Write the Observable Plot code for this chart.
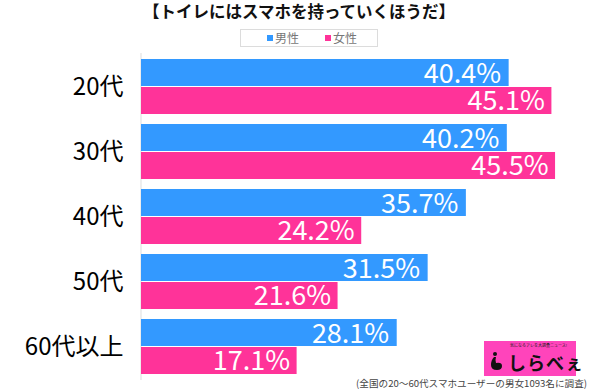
<!DOCTYPE html>
<html>
<head>
<meta charset="utf-8">
<script src="https://cdn.jsdelivr.net/npm/d3@7"></script>
<script src="https://cdn.jsdelivr.net/npm/@observablehq/plot@0.6"></script>
<style>
  html, body { margin: 0; padding: 0; background: #fff; }
  #wrap { position: relative; width: 600px; height: 390px; overflow: hidden; font-family: "Noto Sans CJK JP", "Noto Sans", sans-serif; }
  #title { position: absolute; left: 0; top: 2px; width: 598px; text-align: center; font-size: 16.5px; font-weight: 700; line-height: 19px; color: #111; }
  #legend { position: absolute; left: 240px; top: 29px; width: 136px; height: 16px; border: 1px solid #dcdcdc; box-sizing: content-box; }
  #legend .item { display: flex; align-items: center; font-size: 12px; color: #777; line-height: 16px; position: absolute; top: 0; }
  #legend .sw { width: 6px; height: 6px; margin-right: 2px; }
  #chart { position: absolute; left: 0; top: 50px; }
  #caption { position: absolute; right: 13px; top: 378px; font-size: 9.6px; line-height: 11px; color: #444; white-space: nowrap; }
  #logo { position: absolute; left: 484px; top: 341px; width: 92px; height: 35px; background: #ff44bb; }
  #logo .tag { position: absolute; left: 26px; top: 2px; font-size: 4px; line-height: 5px; color: #222; white-space: nowrap; }
  #logo .icon { position: absolute; left: 6px; top: 10px; width: 13px; height: 20px; }
  #logo .name { position: absolute; left: 24px; top: 10px; font-size: 18px; line-height: 22px; font-weight: 700; color: #111; letter-spacing: 1px; white-space: nowrap; }
</style>
</head>
<body>
<div id="wrap">
  <div id="title"></div>
  <div id="legend"></div>
  <div id="chart"></div>
  <div id="caption"></div>
  <div id="logo">
    <div class="tag">気になるアレを大調査ニュース!</div>
    <svg class="icon" viewBox="0 0 13 20"><circle cx="5" cy="3" r="2" fill="#111"/><path d="M4 6 Q1 9 1 14 Q1 19 7 19 Q12 19 12 15 Q12 11 6 12 Q5 9 6 6 Z" fill="#111"/></svg>
    <div class="name">しらべぇ</div>
  </div>
</div>
<script>
const titleText = "【トイレにはスマホを持っていくほうだ】";
const captionText = "(全国の20〜60代スマホユーザーの男女1093名に調査)";
const ages = ["20代", "30代", "40代", "50代", "60代以上"];
const seriesNames = ["男性", "女性"];
const male = [40.4, 40.2, 35.7, 31.5, 28.1];
const female = [45.1, 45.5, 24.2, 21.6, 17.1];
const seriesColors = ["#3399ff", "#ff3399"];

document.getElementById("title").textContent = titleText;
document.getElementById("caption").textContent = captionText;

const legend = document.getElementById("legend");
const legendX = [26, 84];
seriesNames.forEach((name, i) => {
  const item = document.createElement("div");
  item.className = "item";
  item.style.left = legendX[i] + "px";
  const sw = document.createElement("span");
  sw.className = "sw";
  sw.style.background = seriesColors[i];
  const label = document.createElement("span");
  label.textContent = name;
  item.appendChild(sw);
  item.appendChild(label);
  legend.appendChild(item);
});

const rows = ages.map((age, i) => ({age, male: male[i], female: female[i]}));
const fmt = v => v.toFixed(1) + "%";

const chart = Plot.plot({
  width: 600,
  height: 335,
  marginTop: 3,
  marginBottom: 5,
  marginLeft: 141,
  marginRight: 4,
  x: {domain: [0, 50], axis: null},
  y: {domain: ages, paddingInner: 0.15, paddingOuter: 0.06, tickSize: 0, tickPadding: 18, label: null},
  style: {fontSize: "24px", fontFamily: "'Noto Sans CJK JP', sans-serif", color: "#000", background: "transparent", overflow: "visible"},
  marks: [
    Plot.ruleX([0], {stroke: "#dddddd", strokeWidth: 1, dx: -0.5}),
    Plot.barX(rows, {x: "male", y: "age", fill: seriesColors[0], insetBottom: 28}),
    Plot.barX(rows, {x: "female", y: "age", fill: seriesColors[1], insetTop: 28}),
    Plot.text(rows, {x: "male", y: "age", text: d => fmt(d.male), textAnchor: "end", dx: -8, dy: -13, fill: "white", fontSize: 27}),
    Plot.text(rows, {x: "female", y: "age", text: d => fmt(d.female), textAnchor: "end", dx: -7, dy: 14, fill: "white", fontSize: 27})
  ]
});
document.getElementById("chart").appendChild(chart);
</script>
</body>
</html>
